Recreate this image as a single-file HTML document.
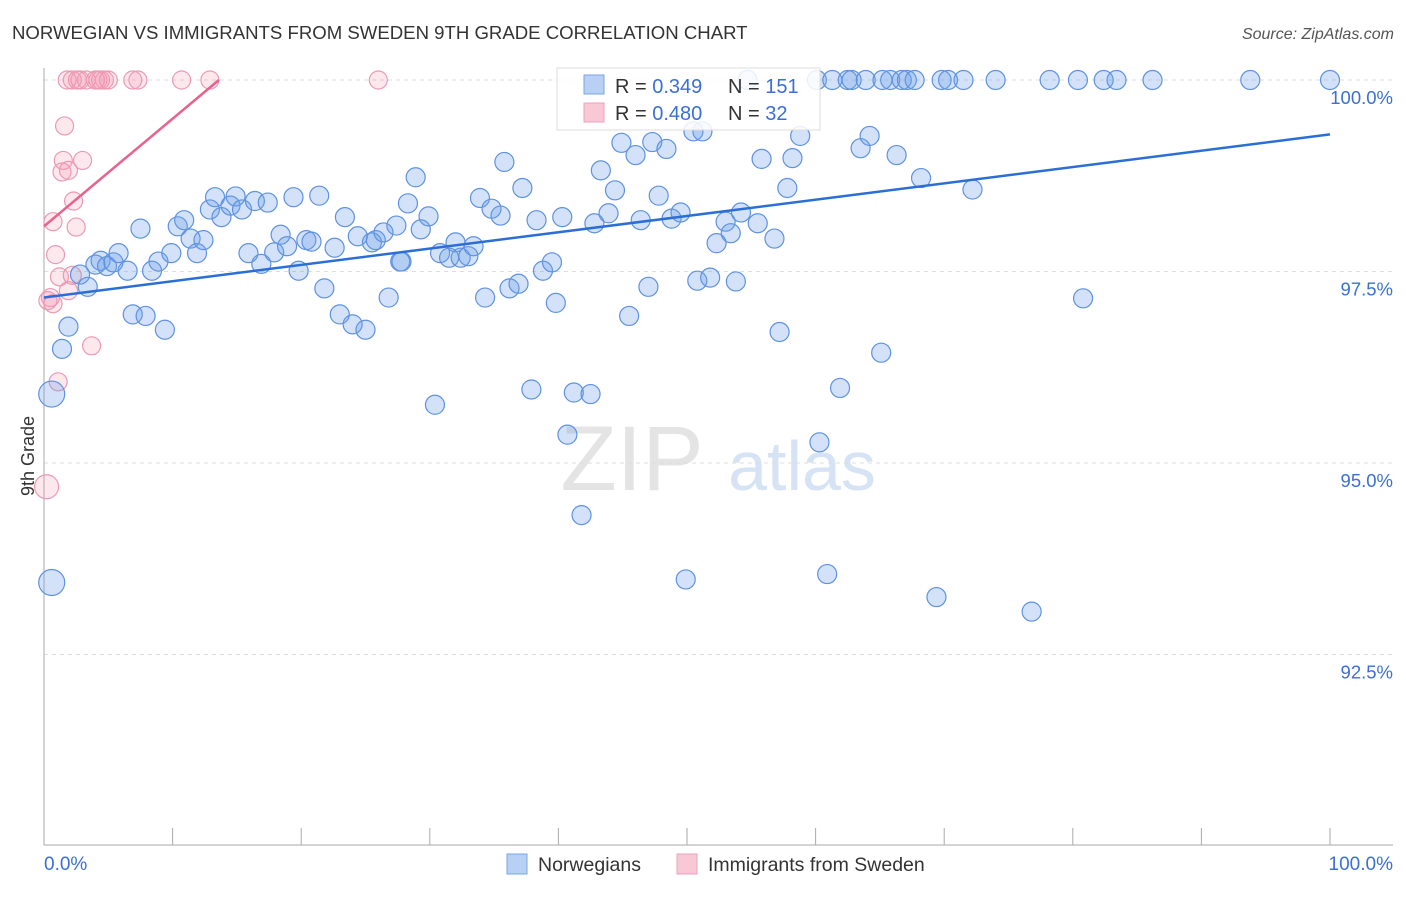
<!DOCTYPE html>
<html><head><meta charset="utf-8"><style>
body{margin:0;background:#fff;font-family:"Liberation Sans",sans-serif;}
svg text{font-family:"Liberation Sans",sans-serif;}
</style></head><body>
<svg id="chart" width="1406" height="892" xmlns="http://www.w3.org/2000/svg">
<text x="12" y="39" font-size="18.6" fill="#333">NORWEGIAN VS IMMIGRANTS FROM SWEDEN 9TH GRADE CORRELATION CHART</text>
<text x="1394" y="39" font-size="16" fill="#555" text-anchor="end" font-style="italic">Source: ZipAtlas.com</text>
<g>
<text x="632" y="490" font-size="92" fill="#e4e4e4" text-anchor="middle" font-family="Liberation Serif">ZIP</text>
<text x="802" y="490" font-size="70" fill="#d5e3f5" text-anchor="middle">atlas</text>
</g>
<g id="grid"></g>
<g id="axes"></g>
<g id="marks"></g>
<text transform="translate(34,456) rotate(-90)" font-size="18" fill="#333" text-anchor="middle">9th Grade</text>
<text x="44" y="870" font-size="19" fill="#3a70d6">0.0%</text>
<text x="1393" y="870" font-size="19" fill="#3a70d6" text-anchor="end">100.0%</text>
<g>
<rect x="557" y="68" width="263" height="62" fill="#fff" fill-opacity="0.85" stroke="#ddd"/>
<rect x="584" y="75" width="20" height="19" fill="#b7d0f3" stroke="#7aa6e6"/>
<rect x="584" y="103" width="20" height="19" fill="#f8c8d6" stroke="#eca0b6"/>
<text x="615" y="93" font-size="20" fill="#333">R = <tspan fill="#3a70d6">0.349</tspan></text>
<text x="728" y="93" font-size="20" fill="#333">N = <tspan fill="#3a70d6">151</tspan></text>
<text x="615" y="120" font-size="20" fill="#333">R = <tspan fill="#3a70d6">0.480</tspan></text>
<text x="728" y="120" font-size="20" fill="#333">N = <tspan fill="#3a70d6"> 32</tspan></text>
</g>
<g>
<rect x="507" y="854" width="20" height="20" fill="#b7d0f3" stroke="#7aa6e6"/>
<text x="538" y="871" font-size="19.5" fill="#333">Norwegians</text>
<rect x="677" y="854" width="20" height="20" fill="#f8c8d6" stroke="#eca0b6"/>
<text x="708" y="871" font-size="19.5" fill="#333">Immigrants from Sweden</text>
</g>
</svg>
<script>
const yTicks=[100,97.5,95,92.5];
const yTickLabels=["100.0%","97.5%","95.0%","92.5%"];
const blueX=[60.1,61.3,62.5,62.8,63.9,65.2,65.8,66.7,67.1,67.7,69.8,70.3,71.5,74.0,78.2,80.4,82.4,83.4,86.2,93.8,100,54.7,
1.4,1.9,2.8,3.4,4.0,4.4,4.9,5.4,5.8,6.5,6.9,7.5,7.9,8.4,8.9,9.4,9.9,10.4,10.9,11.4,11.9,12.4,12.9,13.3,13.8,14.5,14.9,15.4,15.9,16.4,16.9,17.4,17.9,18.4,18.9,19.4,19.8,20.4,20.8,21.4,21.8,22.6,23.0,23.4,24.0,24.4,25.0,25.5,25.8,26.4,26.8,27.4,27.8,28.3,28.9,29.3,29.9,30.4,
32.0,30.8,31.5,32.4,33.0,33.4,35.8,37.2,33.9,34.8,35.5,38.3,40.3,42.8,43.9,43.3,44.4,44.9,46.0,47.3,48.4,47.8,46.4,48.8,49.5,50.5,51.2,55.8,58.2,58.8,57.8,53.0,54.2,53.4,52.3,55.5,56.8,63.5,64.2,66.3,68.2,72.2,80.8,27.7,34.3,36.2,36.9,38.8,39.5,39.8,47.0,45.5,50.8,51.8,53.8,57.2,65.1,37.9,41.2,42.5,40.7,41.8,49.9,60.9,60.3,61.9,69.4,76.8];
const blueY=[100,100,100,100,100,100,100,100,100,100,100,100,100,100,100,100,100,100,100,100,100,100,
96.49,96.78,97.46,97.30,97.59,97.64,97.57,97.62,97.74,97.51,96.94,98.06,96.92,97.51,97.63,96.74,97.74,98.09,98.17,97.93,97.74,97.91,98.31,98.47,98.21,98.36,98.48,98.31,97.74,98.42,97.60,98.40,97.75,97.98,97.83,98.47,97.51,97.91,97.89,98.49,97.28,97.81,96.94,98.21,96.81,97.96,96.74,97.88,97.91,98.01,97.16,98.10,97.63,98.39,98.73,98.05,98.22,95.76,
97.88,97.74,97.68,97.68,97.70,97.83,98.93,98.59,98.46,98.32,98.23,98.17,98.21,98.13,98.26,98.82,98.56,99.18,99.02,99.19,99.10,98.49,98.17,98.19,98.27,99.33,99.33,98.97,98.98,99.27,98.59,98.15,98.27,98.00,97.87,98.13,97.93,99.11,99.27,99.02,98.72,98.57,97.15,97.63,97.16,97.28,97.34,97.51,97.62,97.09,97.30,96.92,97.38,97.42,97.37,96.71,96.44,95.96,95.92,95.90,95.37,94.32,93.48,93.55,95.27,95.98,93.25,93.06];
const blueBigX=[0.6,0.6];
const blueBigY=[93.44,95.90];
const pinkX=[1.6,1.5,3.0,1.4,1.9,2.3,0.7,2.5,0.9,1.2,2.2,1.9,0.5,0.7,0.3,3.7,1.1,1.8,2.2,2.6,2.8,3.3,4.0,4.2,4.4,4.7,5.0,6.9,7.3,10.7,12.9,26.0];
const pinkY=[99.40,98.95,98.95,98.80,98.82,98.42,98.15,98.08,97.72,97.43,97.45,97.25,97.16,97.08,97.12,96.53,96.06,100,100,100,100,100,100,100,100,100,100,100,100,100,100,100];
const pinkBigX=[0.2];
const pinkBigY=[94.69];
const blueTrend=[[0,97.16],[100,99.29]];
const pinkTrend=[[0,98.09],[13.6,100]];

const X0=44,X1=1330,Y100=80,PXPER=76.6;
const xs=v=>X0+(v/100)*(X1-X0);
const ys=v=>Y100+(100-v)*PXPER;
const NS="http://www.w3.org/2000/svg";
function mk(tag,attrs,parent){const e=document.createElementNS(NS,tag);for(const k in attrs)e.setAttribute(k,attrs[k]);parent.appendChild(e);return e;}
const grid=document.getElementById('grid'),axes=document.getElementById('axes'),marks=document.getElementById('marks');
yTicks.forEach((t,i)=>{
 const l=mk('line',{x1:44,x2:1393,y1:ys(t),y2:ys(t),stroke:'#ddd','stroke-dasharray':'4,4'},grid);
 
 
 const tx=mk('text',{x:1393,y:ys(t)+24,'font-size':18.5,fill:'#3a70d6','text-anchor':'end'},grid);
 tx.textContent=yTickLabels[i];
 
 
});
const ya=mk('line',{x1:44,x2:44,y1:68,y2:845,stroke:'#aaa'},axes);


const xa=mk('line',{x1:44,x2:1393,y1:845,y2:845,stroke:'#aaa'},axes);


for(let i=0;i<=10;i++){
 const t=mk('line',{x1:xs(i*10),x2:xs(i*10),y1:828,y2:845,stroke:'#aaa'},axes);
 
 
}
function dots(xa,ya,r,fill,stroke,name){
 xa.forEach((v,i)=>{
  const c=mk('circle',{cx:xs(v),cy:ys(ya[i]),r:r,fill:fill,stroke:stroke,'stroke-width':1.2},marks);
  
  
 });
}
dots(pinkX,pinkY,9,'rgba(244,150,176,0.22)','#eb9ab2','sweden-point');
dots(pinkBigX,pinkBigY,12,'rgba(244,150,176,0.22)','#eb9ab2','sweden-point');
dots(blueX,blueY,9.5,'rgba(110,160,232,0.3)','#5e92e2','norwegian-point');
dots(blueBigX,blueBigY,13,'rgba(110,160,232,0.3)','#5e92e2','norwegian-point');
const bt=mk('line',{x1:xs(blueTrend[0][0]),y1:ys(blueTrend[0][1]),x2:xs(blueTrend[1][0]),y2:ys(blueTrend[1][1]),stroke:'#2b6fd6','stroke-width':2.5},marks);


const pt=mk('line',{x1:xs(pinkTrend[0][0]),y1:ys(pinkTrend[0][1]),x2:xs(pinkTrend[1][0]),y2:ys(pinkTrend[1][1]),stroke:'#e8628c','stroke-width':2.5},marks);


</script>
</body></html>
